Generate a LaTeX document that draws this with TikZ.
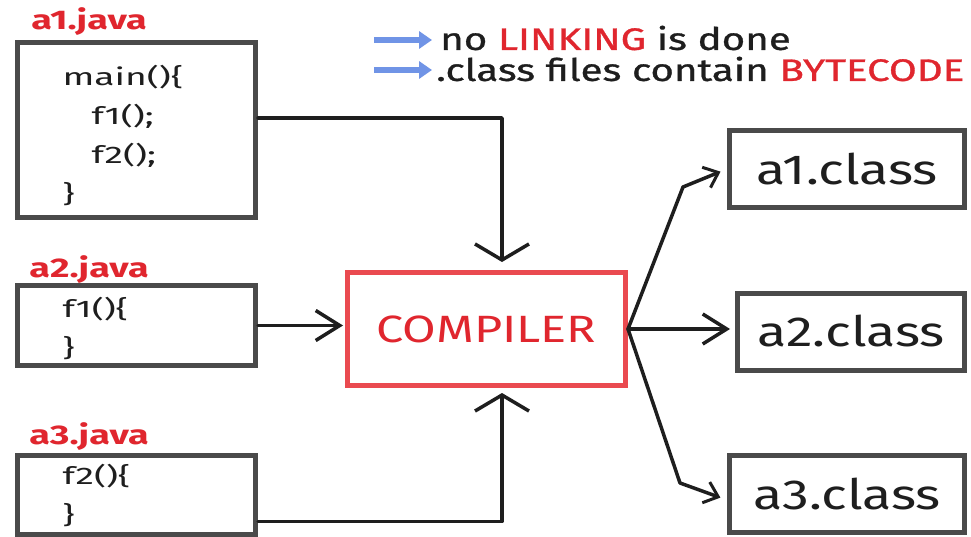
\documentclass[tikz,border=0pt]{standalone}
\usepackage{fontspec}
\setmainfont{Fira Sans}
\newfontfamily\codefont[FakeStretch=1.55]{Fira Sans}
\newfontfamily\labelfont[FakeStretch=1.4]{Fira Sans}
\newfontfamily\bigfont[FakeStretch=1.28]{Fira Sans}
\newfontfamily\legfont[FakeStretch=1.3,FakeBold=1]{Fira Sans}
\usetikzlibrary{arrows.meta}
\definecolor{boxgray}{HTML}{4A4A4A}
\definecolor{redtext}{HTML}{E0262E}
\definecolor{redbox}{HTML}{EA4A50}
\definecolor{bluearrow}{HTML}{7094E6}
\definecolor{inkc}{HTML}{1E1E1E}
\begin{document}
\begin{tikzpicture}[x=1pt,y=-1pt,
  filebox/.style={draw=boxgray, line width=5pt, fill=white, inner ysep=0pt,
    inner xsep=45pt, text width=148pt, align=left, minimum width=238pt,
    font=\codefont\fontsize{24}{39}\selectfont, text=inkc},
  javalabel/.style={text=redtext, font=\labelfont\fontsize{27}{30}\selectfont\bfseries, inner sep=0pt},
  classbox/.style={draw=boxgray, line width=5pt, fill=white, minimum height=77pt,
    font=\bigfont\fontsize{42}{48}\selectfont, text=inkc, inner sep=0pt},
  compbox/.style={draw=redbox, line width=5pt, fill=white, minimum width=278pt,
    minimum height=113pt, text=redtext, font=\bigfont\fontsize{38}{44}\selectfont, inner sep=0pt},
  conn/.style={draw=inkc, line width=3.5pt, line cap=round, line join=round},
  bigtip/.style={-{Straight Barb[length=16pt,width=54pt,line width=3.5pt]}},
  midtip/.style={-{Straight Barb[length=24pt,width=30pt,line width=3.5pt]}},
  smalltip/.style={-{Straight Barb[length=13pt,width=22pt,line width=3pt]}},
  legarrow/.style={draw=bluearrow, line width=6pt, -{Triangle[length=13pt,width=17pt]}},
  legtext/.style={anchor=west, inner sep=0pt, text=inkc, font=\legfont\fontsize{31}{34}\selectfont}
]
\useasboundingbox (0,0) rectangle (971,537);
\fill[white] (0,0) rectangle (971,537);

% source files
\node[javalabel] (l1) at (89,22) {a1.java};
\node[filebox, minimum height=175pt] (a1) at (136.5,130) {\rule{0pt}{32pt}main()\{\\\hspace*{29pt}f1();\\\hspace*{29pt}f2();\\\}};
\node[javalabel] (l2) at (89,270) {a2.java};
\node[filebox, minimum height=80pt] (a2) at (136.5,325.5) {\rule{0pt}{26pt}f1()\{\\\}};
\node[javalabel] (l3) at (89,437) {a3.java};
\node[filebox, minimum height=79pt] (a3) at (136.5,494.5) {\rule{0pt}{22pt}f2()\{\\\}};

% compiler
\node[compbox] (comp) at (486.5,329) {COMPILER};

% class files
\node[classbox, minimum width=235pt] (c1) at (847,169) {a1.class};
\node[classbox, minimum width=227pt] (c2) at (851,331.5) {a2.class};
\node[classbox, minimum width=235pt] (c3) at (847,494) {a3.class};

% legend
\coordinate (b1s) at (374,40);
\coordinate (b1e) at (432,40);
\coordinate (b2s) at (374,70);
\coordinate (b2e) at (432,70);
\draw[legarrow] (b1s) -- (b1e);
\draw[legarrow] (b2s) -- (b2e);
\node[legtext] (t1) at (440,38) {no {\color{redtext}LINKING} is done};
\node[legtext] (t2) at (436,69) {.class files contain {\color{redtext}BYTECODE}};

% connectors into the compiler
\draw[conn, bigtip, shorten >=8pt] ([yshift=12pt]a1.east) -| ([xshift=15.5pt]comp.north);
\draw[conn, midtip, shorten >=2pt] (a2.east) -- (a2.east -| comp.west);
\draw[conn, bigtip, shorten >=5pt] ([yshift=-27pt]a3.east) -| ([xshift=15.5pt]comp.south);

% connectors out of the compiler
\draw[conn, smalltip, shorten >=7pt] (comp.east) -- ([xshift=-44pt,yshift=-18pt]c1.west) -- (c1.west);
\draw[conn, midtip, shorten >=5pt] (comp.east) -- (comp.east -| c2.west);
\draw[conn, smalltip, shorten >=7pt] (comp.east) -- ([xshift=-47pt,yshift=11pt]c3.west) -- ([yshift=-6pt]c3.west);
\end{tikzpicture}
\end{document}
